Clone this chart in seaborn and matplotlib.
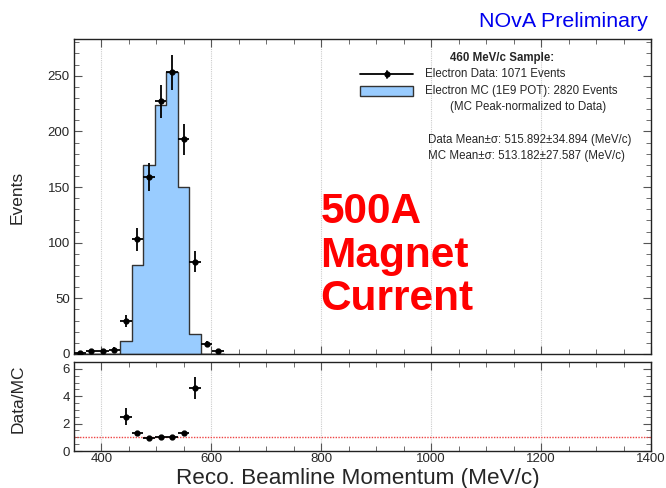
import numpy as np
import pandas as pd
import matplotlib
matplotlib.use("Agg")
import matplotlib.pyplot as plt
from matplotlib.ticker import MultipleLocator
from matplotlib.lines import Line2D
from matplotlib.patches import Rectangle
import seaborn as sns

# ---------------- data ----------------
bin_centers = [360.5, 381.5, 402.5, 423.5, 444.5, 465.5, 486.5, 507.5,
               528.5, 549.5, 570.5, 591.5, 612.5]
bin_half_width = 10.5
data_counts = [1, 3, 3, 4, 30, 103, 159, 227, 253, 193, 83, 9, 3]
mc_counts = [0, 0, 0, 0, 12, 80, 170, 224, 253, 150, 18, 0, 0]
mc_raw_total = 2820
x_ticks = [400, 600, 800, 1000, 1200, 1400]
y_ticks_top = [0, 50, 100, 150, 200, 250]
y_ticks_ratio = [0, 2, 4, 6]

title_text = "460 MeV/c Sample:"
legend_data = "Electron Data: 1071 Events"
legend_mc = "Electron MC (1E9 POT): 2820 Events"
legend_note = "(MC Peak-normalized to Data)"
stat_data = "Data Mean\u00b1\u03c3: 515.892\u00b134.894 (MeV/c)"
stat_mc = "MC Mean\u00b1\u03c3: 513.182\u00b127.587 (MeV/c)"

# ---------------- style ----------------
sns.set_theme(style="ticks")
plt.rcParams["font.family"] = ["Liberation Sans", "DejaVu Sans"]

W, H = 666, 488
fig = plt.figure(figsize=(W / 100, H / 100), dpi=100)


def fx(px):
    return px / W


def fy(py):
    return 1 - py / H


ax = fig.add_axes([fx(74), fy(354), fx(651) - fx(74), fy(39) - fy(354)])
ax2 = fig.add_axes([fx(74), fy(451), fx(651) - fx(74), fy(362) - fy(451)])

centers = np.array(bin_centers)
dc = np.array(data_counts, dtype=float)
mc = np.array(mc_counts, dtype=float)
edges = list(np.append(centers - bin_half_width, centers[-1] + bin_half_width))
df = pd.DataFrame({"momentum": centers, "mc": mc})

mc_color = "#99ccff"
sns.histplot(data=df, x="momentum", weights="mc", bins=edges, element="step",
             fill=True, color=mc_color, edgecolor="#333333", linewidth=1.0,
             alpha=1.0, ax=ax, zorder=2)
ax.errorbar(centers, dc, yerr=np.sqrt(dc), xerr=bin_half_width, fmt="o",
            ms=3.5, color="black", elinewidth=1.3, capsize=0, zorder=4)

# ratio panel
mask = mc > 0
scale = mc.sum() / mc_raw_total
mc_raw = mc[mask] / scale
ratio = dc[mask] / mc[mask]
ratio_err = ratio * np.sqrt(1 / dc[mask] + 1 / mc_raw)
ax2.axhline(1, color="#ee4444", ls=(0, (1, 1)), lw=1.0, zorder=2)
ax2.errorbar(centers[mask], ratio, yerr=ratio_err, xerr=bin_half_width,
             fmt="o", ms=3.5, color="black", elinewidth=1.3, capsize=0, zorder=4)

# axes formatting
for a in (ax, ax2):
    a.set_xlim(350, 1400)
    a.set_xticks(x_ticks)
    a.xaxis.set_minor_locator(MultipleLocator(50))
    a.grid(axis="x", color="#cccccc", ls=(0, (1, 1)), lw=0.8)
    a.set_axisbelow(True)
    a.tick_params(which="both", direction="in", top=True, right=True,
                  color="#555555", labelsize=9.5, pad=3)
    a.tick_params(which="major", length=6, width=0.8)
    a.tick_params(which="minor", length=3.5, width=0.6)
    for s in a.spines.values():
        s.set_color("#222222")
        s.set_linewidth(1.0)
    a.set_xlabel("")
    a.set_ylabel("")

ax.set_ylim(0, 283)
ax.set_yticks(y_ticks_top)
ax.yaxis.set_minor_locator(MultipleLocator(10))
ax.tick_params(axis="x", labelbottom=False)

ax2.set_ylim(0, 6.5)
ax2.set_yticks(y_ticks_ratio)
ax2.yaxis.set_minor_locator(MultipleLocator(0.5))
ax2.tick_params(axis="x", pad=1.5)

# labels
fig.text(fx(17), fy(197), "Events", rotation=90, ha="center", va="center",
         fontsize=12.5)
fig.text(fx(18.5), fy(398.5), "Data/MC", rotation=90, ha="center",
         va="center", fontsize=12.5)
fig.text(fx(357.5), fy(484.3), "Reco. Beamline Momentum (MeV/c)", ha="center",
         va="baseline", fontsize=16.2)
fig.text(fx(648), fy(26.7), "NOvA Preliminary", ha="right", va="baseline",
         fontsize=15.4, color="#0000ee")

# legend block
fs = 8.3
fig.text(fx(501.7), fy(58.3), title_text, ha="center", va="center",
         fontsize=fs, fontweight="bold")
fig.text(fx(425), fy(74), legend_data, ha="left", va="center", fontsize=fs)
fig.text(fx(425), fy(90.7), legend_mc, ha="left", va="center", fontsize=fs)
fig.text(fx(450), fy(106.7), legend_note, ha="left", va="center", fontsize=fs)
fig.text(fx(428.3), fy(140), stat_data, ha="left", va="center", fontsize=fs)
fig.text(fx(428.3), fy(156), stat_mc, ha="left", va="center", fontsize=fs)
fig.add_artist(Line2D([fx(360), fx(413)], [fy(74), fy(74)], color="black",
                      lw=1.3, transform=fig.transFigure))
fig.add_artist(Line2D([fx(386.5)], [fy(74)], marker="o", ms=3.5,
                      color="black", transform=fig.transFigure))
fig.add_artist(Line2D([fx(386.5), fx(386.5)], [fy(70.5), fy(77.5)],
                      color="black", lw=1.3, transform=fig.transFigure))
fig.add_artist(Rectangle((fx(360), fy(96)), fx(413) - fx(360),
                         fy(86) - fy(96), facecolor=mc_color,
                         edgecolor="#333333", lw=1.0,
                         transform=fig.transFigure))

# big red annotation
for txt, base in (("500A", 223), ("Magnet", 266.5), ("Current", 310)):
    fig.text(fx(320.5), fy(base), txt, ha="left", va="baseline",
             fontsize=30.5, fontweight="bold", color="#ff0000")

fig.savefig("out.png", dpi=100)
